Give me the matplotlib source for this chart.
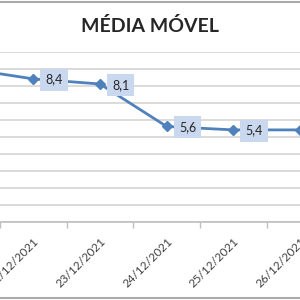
import matplotlib
matplotlib.use("Agg")
import matplotlib.pyplot as plt
from matplotlib.ticker import FixedLocator, MultipleLocator

plt.rcParams['font.family'] = ['Lato', 'DejaVu Sans']

categories = ["21/12/2021", "22/12/2021", "23/12/2021", "24/12/2021", "25/12/2021", "26/12/2021"]
values = [9.0, 8.4, 8.1, 5.6, 5.4, 5.4]
labeled = [False, True, True, True, True, False]
title = "MÉDIA MÓVEL"

fig = plt.figure(figsize=(3, 3), dpi=100)
ax = fig.add_axes([0.0, 0.261, 1.0, 0.5667])

x = list(range(len(categories)))
ax.plot(x, values, color="#4F81BD", lw=2.0, marker="D", ms=5, mfc="#4F81BD",
        mec="#4F81BD", zorder=3, clip_on=True)

for xi, v, show in zip(x, values, labeled):
    if show:
        ax.annotate(f"{v:.1f}".replace(".", ","), (xi, v), xytext=(15, -0.5),
                    textcoords="offset points", ha="center", va="center",
                    fontsize=9, color="#262626",
                    bbox=dict(boxstyle="square,pad=0.4", fc="#C9D8EE", ec="none"),
                    zorder=4)

ax.set_xticks(x)
ax.set_xticklabels(categories, rotation=45, ha="right", va="top",
                   rotation_mode="anchor", fontsize=8.5, color="#404040")
ax.tick_params(axis="x", which="major", length=0, pad=10)
ax.xaxis.set_minor_locator(FixedLocator([i + 0.5 for i in range(-1, 6)]))
ax.tick_params(axis="x", which="minor", length=4, color="#BFBFBF", width=1)

ax.set_xlim(0.5, 5.0)
ax.set_ylim(0, 10)
ax.yaxis.set_major_locator(MultipleLocator(1))
ax.grid(axis="y", color="#D4D4D4", lw=1.2)
ax.set_axisbelow(True)
ax.tick_params(axis="y", left=False, labelleft=False)

for s in ["top", "left", "right"]:
    ax.spines[s].set_visible(False)
ax.spines["bottom"].set_color("#BFBFBF")
ax.spines["bottom"].set_linewidth(1.2)

fig.text(0.5, 0.912, title, ha="center", va="center", fontsize=14,
         fontweight="bold", color="#262626")

# chart border lines (top and bottom visible)
fig.add_artist(plt.Line2D([0, 1], [0.995, 0.995], color="#ABABAB", lw=1.5, transform=fig.transFigure))
fig.add_artist(plt.Line2D([0, 1], [0.007, 0.007], color="#ABABAB", lw=1.5, transform=fig.transFigure))

fig.savefig("out.png", dpi=100)
